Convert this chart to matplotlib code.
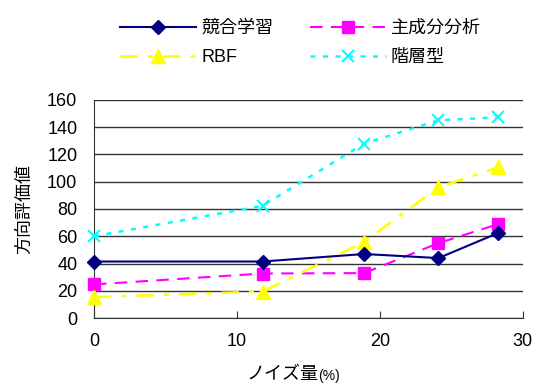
import matplotlib
matplotlib.use('Agg')
import matplotlib.pyplot as plt

plt.rcParams['font.family'] = ['Liberation Sans', 'Noto Sans CJK JP']

noise = [0, 11.8, 18.9, 24.1, 28.3]
competitive = [41.5, 41.5, 47.0, 44.0, 62.5]
pca = [24.7, 32.7, 33.0, 55.0, 69.0]
rbf = [15.4, 19.5, 55.8, 96.0, 110.5]
hierarchical = [60.0, 82.4, 127.9, 145.0, 147.2]

fig = plt.figure(figsize=(5.34, 3.87), dpi=100)
ax = fig.add_axes([0.176, 0.178, 0.803, 0.564])

h1, = ax.plot(noise, competitive, color='#000080', linestyle='-', marker='D', markersize=7,
              linewidth=1.5, label='競合学習', clip_on=False, zorder=4)
h2, = ax.plot(noise, pca, color='#ff00ff', linestyle=(0, (6, 4)), marker='s', markersize=9,
              linewidth=1.5, label='主成分分析', clip_on=False, zorder=3)
h3, = ax.plot(noise, rbf, color='#ffff00', linestyle=(0, (7, 4, 2, 4)), marker='^', markersize=10,
              linewidth=1.8, label='RBF', clip_on=False, zorder=3)
h4, = ax.plot(noise, hierarchical, color='#00ffff', linestyle=(0, (2, 3)), marker='x', markersize=9,
              markeredgewidth=1.5, linewidth=1.8, label='階層型', clip_on=False, zorder=3)

ax.set_xlim(0, 30)
ax.set_ylim(0, 160)
ax.set_xticks([0, 10, 20, 30])
ax.set_yticks(range(0, 161, 20))
ax.yaxis.grid(True, color='#333333', linewidth=1.0)
ax.set_axisbelow(True)
for side in ('top', 'right'):
    ax.spines[side].set_visible(False)
ax.spines['left'].set_color('#333333')
ax.spines['bottom'].set_color('#333333')
ax.tick_params(axis='x', direction='in', length=5, pad=11, labelsize=13, color='#333333')
ax.tick_params(axis='y', length=0, pad=12, labelsize=13)

ax.set_ylabel('方向評価値', fontsize=13, labelpad=10)

# x label: "(%)" set in a smaller size
fig.text(0.596, 1 - 375 / 387, 'ノイズ量', fontsize=13, ha='right', va='center')
fig.text(0.596, 1 - 376 / 387, '(%)', fontsize=10, ha='left', va='center')

# row-major legend: 競合学習 / 主成分分析 on the first row
fig.legend([h1, h3, h2, h4], ['競合学習', 'RBF', '主成分分析', '階層型'],
           loc='upper left', bbox_to_anchor=(0.195, 0.99), ncol=2, frameon=False,
           fontsize=13, handlelength=4.2, columnspacing=2.0, handletextpad=0.3,
           labelspacing=0.65)

fig.savefig('out.png', dpi=100)
